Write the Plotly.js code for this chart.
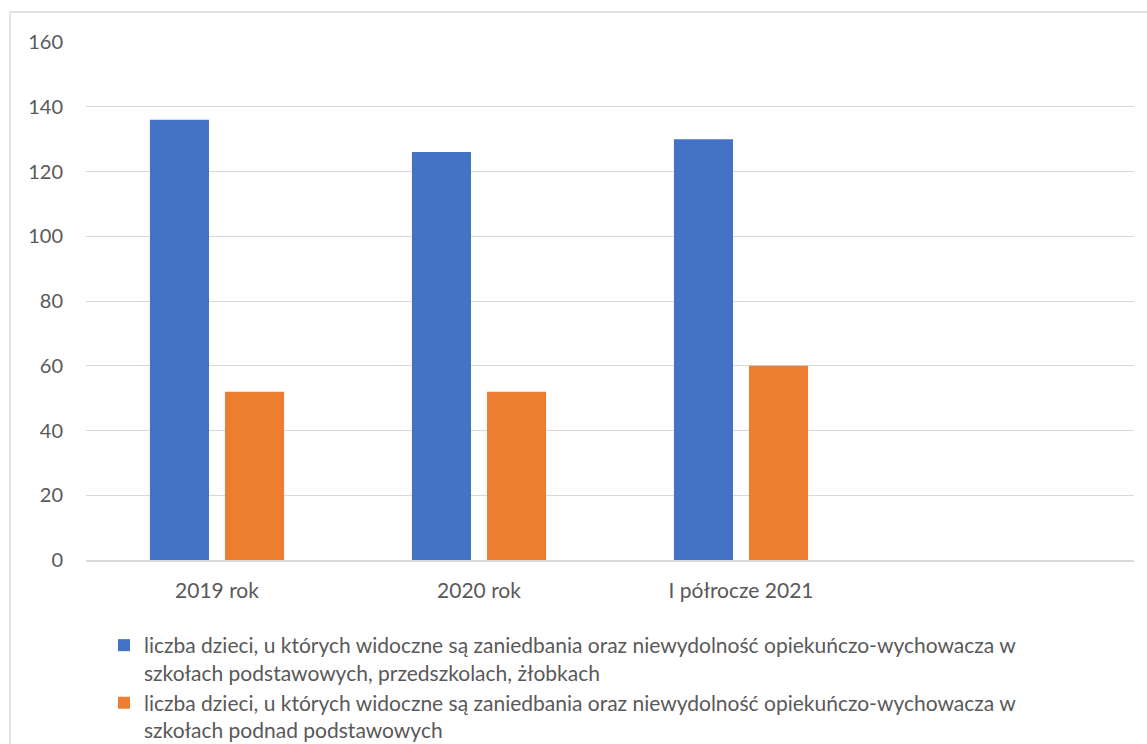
<!DOCTYPE html>
<html>
<head>
<meta charset="utf-8">
<script src="https://cdn.plot.ly/plotly-3.0.1.min.js"></script>
<style>html,body{margin:0;padding:0;background:#fff;}#chart{width:1147px;height:744px;}</style>
</head>
<body>
<div id="chart"></div>
<script>
const categories = ["2019 rok", "2020 rok", "I półrocze 2021", " "];
const seriesNames = [
  "liczba dzieci, u których widoczne są zaniedbania oraz niewydolność opiekuńczo-wychowacza w<br>szkołach podstawowych, przedszkolach, żłobkach",
  "liczba dzieci, u których widoczne są zaniedbania oraz niewydolność opiekuńczo-wychowacza w<br>szkołach podnad podstawowych"
];
const primaryValues = [136, 126, 130, null];
const secondaryValues = [52, 52, 60, null];
const yTicks = [0, 20, 40, 60, 80, 100, 120, 140, 160];

const font = "Lato, Open Sans, Liberation Sans, sans-serif";
const textColor = "#595959";

const data = [
  {type: "bar", x: categories, y: primaryValues, name: seriesNames[0], marker: {color: "#4472C4"}, hoverinfo: "y"},
  {type: "bar", x: categories, y: secondaryValues, name: seriesNames[1], marker: {color: "#ED7D31"}, hoverinfo: "y"}
];

const L = 86, R = 13, T = 42, B = 184, W = 1147, H = 744;
const pw = W - L - R, ph = H - T - B;
const px = v => (v - L) / pw;
const py = v => (H - B - v) / ph;

const layout = {
  width: W, height: H,
  margin: {l: L, r: R, t: T, b: B, autoexpand: false},
  paper_bgcolor: "#fff", plot_bgcolor: "#fff",
  font: {family: font, color: textColor, size: 21},
  barmode: "group",
  bargap: 0.427,
  bargroupgap: 0.213,
  showlegend: true,
  xaxis: {
    type: "category",
    showgrid: false,
    showline: true, linecolor: "#d9d9d9", linewidth: 1.5,
    ticks: "", ticklabelstandoff: 11,
    tickfont: {size: 21, color: textColor},
    fixedrange: true
  },
  yaxis: {
    range: [0, 160],
    tickvals: yTicks,
    showgrid: true, gridcolor: "#d9d9d9", gridwidth: 1,
    zeroline: false, showline: false,
    ticks: "", ticklabelstandoff: 22,
    tickfont: {size: 20, color: textColor},
    fixedrange: true
  },
  legend: {
    orientation: "v",
    x: px(104), xanchor: "left",
    y: py(625), yanchor: "top",
    valign: "top",
    font: {size: 21, color: textColor},
    tracegroupgap: 2,
    itemwidth: 30,
    bgcolor: "rgba(0,0,0,0)"
  },
  shapes: [{
    type: "rect", xref: "paper", yref: "paper",
    x0: px(10), x1: px(1160), y0: py(760), y1: py(12),
    line: {color: "#d9d9d9", width: 1.5}, fillcolor: "rgba(0,0,0,0)", layer: "below"
  }]
};

Plotly.newPlot("chart", data, layout, {displayModeBar: false, staticPlot: true});
</script>
</body>
</html>
